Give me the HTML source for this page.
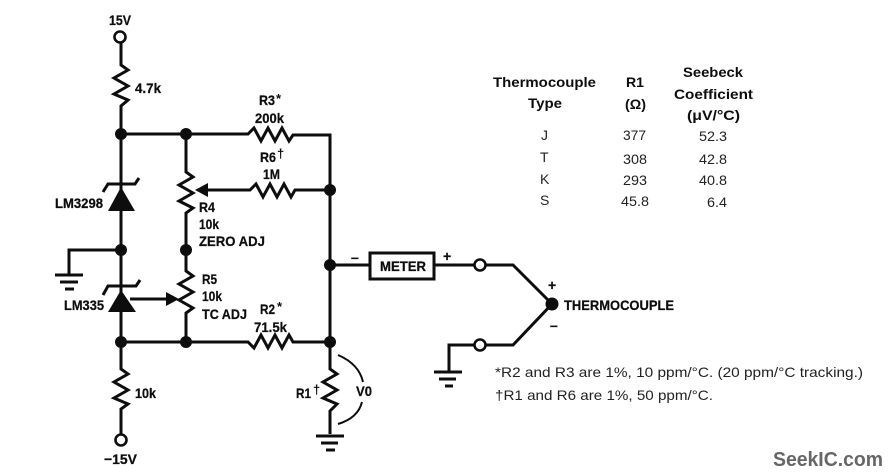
<!DOCTYPE html>
<html>
<head>
<meta charset="utf-8">
<style>
html,body{margin:0;padding:0;background:#fff;width:892px;height:476px;overflow:hidden}
svg{display:block}
.w{fill:none;stroke:#111;stroke-width:3;stroke-linejoin:miter}
.t{fill:none;stroke:#111;stroke-width:2}
.l{font-family:"Liberation Sans",sans-serif;font-weight:bold;font-size:14px;fill:#111;stroke:#111;stroke-width:.25}
.s{font-family:"Liberation Sans",sans-serif;font-weight:bold;font-size:13px;fill:#111}
.h{font-family:"Liberation Sans",sans-serif;font-weight:bold;font-size:14px;fill:#111}
.n{font-family:"Liberation Sans",sans-serif;font-size:14px;fill:#222}
.m{font-family:"Liberation Sans",sans-serif;font-weight:bold;font-size:20px;fill:#666}
</style>
</head>
<body>
<svg width="892" height="476" viewBox="0 0 892 476" xmlns="http://www.w3.org/2000/svg">
<rect width="892" height="476" fill="#fff"/>
<defs><filter id="b" x="0" y="0" width="100%" height="100%"><feGaussianBlur stdDeviation="0.35"/></filter></defs>
<g filter="url(#b)">

<!-- wires -->
<path class="w" d="M121,43V65L128,70L114,78L128,86L114,94L128,100L121,106V369L128,374L114,382L128,390L114,398L128,404L121,409V434"/>
<path class="w" d="M121,134H248L254,128L261,141L268,128L275,141L282,128L289,141L293,135H330V369L337,374L323,382L337,390L323,398L337,404L330,411V434"/>
<path class="w" d="M186,134V172L193,177L179,185L193,193L179,201L193,208L186,213V271L193,276L179,284L193,292L179,300L193,308L186,313V342"/>
<path class="w" d="M121,342H248L254,348L261,335L268,348L275,335L282,348L289,335L293,342H330"/>
<path class="w" d="M207,190H250L256,184L263,197L270,184L277,197L284,184L291,197L295,190H330"/>
<path class="w" d="M121,250H69V274"/>
<path class="w" d="M330,265H369M434,265H474M486,265H513L552,304L513,345H486M474,345H449V372"/>
<path class="w" d="M130,299H168"/>

<!-- arrows -->
<polygon points="195,190 208,183 208,197" fill="#111"/>
<polygon points="179,299 166,292 166,306" fill="#111"/>

<!-- zeners -->
<polygon points="121,187 108,211 135,211" fill="#111"/>
<path class="w" d="M103,192L108,184H135L139,178"/>
<polygon points="121,290 108,312 136,312" fill="#111"/>
<path class="w" d="M103,295L108,286H136L140,280"/>

<!-- grounds -->
<path class="w" d="M55,275H83"/><path class="w" d="M60,282H78"/><path class="w" d="M65,289H74"/>
<path class="w" d="M316,436H344"/><path class="w" d="M321,443H338"/><path class="w" d="M326,450H335"/>
<path class="w" d="M434,372H462"/><path class="w" d="M439,379H456"/><path class="w" d="M445,386H453"/>

<!-- nodes -->
<g fill="#111">
<circle cx="121" cy="134" r="6"/><circle cx="186" cy="134" r="6"/>
<circle cx="330" cy="190" r="6"/><circle cx="121" cy="250" r="6"/>
<circle cx="186" cy="250" r="6"/><circle cx="330" cy="265" r="6"/>
<circle cx="121" cy="342" r="6"/><circle cx="186" cy="342" r="6"/>
<circle cx="330" cy="342" r="6"/><circle cx="552" cy="304" r="6.5"/>
</g>

<!-- open terminals -->
<g fill="#fff" stroke="#111" stroke-width="2.6">
<circle cx="120" cy="37" r="5.5"/><circle cx="121" cy="440" r="5.5"/>
<circle cx="480" cy="265" r="5.5"/><circle cx="480" cy="345" r="5.5"/>
</g>

<!-- meter -->
<rect x="370" y="253" width="64" height="26" fill="#fff" stroke="#111" stroke-width="3"/>

<!-- V0 arcs -->
<path class="t" d="M338,355Q359,364 363,382"/>
<path class="t" d="M362,402Q358,418 338,424"/>

<!-- labels -->
<text class="l" x="109" y="25" textLength="22" lengthAdjust="spacingAndGlyphs">15V</text>
<text class="l" x="135" y="93" textLength="26" lengthAdjust="spacingAndGlyphs">4.7k</text>
<text class="l" x="259" y="105" textLength="16" lengthAdjust="spacingAndGlyphs">R3</text>
<text class="s" x="276" y="103">*</text>
<text class="l" x="255" y="123" textLength="29" lengthAdjust="spacingAndGlyphs">200k</text>
<text class="l" x="260" y="162" textLength="16" lengthAdjust="spacingAndGlyphs">R6</text>
<text class="s" x="277" y="158">†</text>
<text class="l" x="263" y="179" textLength="17" lengthAdjust="spacingAndGlyphs">1M</text>
<text class="l" x="55" y="208" textLength="48" lengthAdjust="spacingAndGlyphs">LM3298</text>
<text class="l" x="199" y="212" textLength="16" lengthAdjust="spacingAndGlyphs">R4</text>
<text class="l" x="199" y="229" textLength="20" lengthAdjust="spacingAndGlyphs">10k</text>
<text class="l" x="199" y="246" textLength="66" lengthAdjust="spacingAndGlyphs">ZERO ADJ</text>
<text class="l" x="202" y="284" textLength="15" lengthAdjust="spacingAndGlyphs">R5</text>
<text class="l" x="202" y="301" textLength="20" lengthAdjust="spacingAndGlyphs">10k</text>
<text class="l" x="202" y="319" textLength="45" lengthAdjust="spacingAndGlyphs">TC ADJ</text>
<text class="l" x="64" y="310" textLength="40" lengthAdjust="spacingAndGlyphs">LM335</text>
<text class="l" x="260" y="314" textLength="15" lengthAdjust="spacingAndGlyphs">R2</text>
<text class="s" x="277" y="311">*</text>
<text class="l" x="254" y="332" textLength="33" lengthAdjust="spacingAndGlyphs">71.5k</text>
<text class="l" x="135" y="398" textLength="21" lengthAdjust="spacingAndGlyphs">10k</text>
<text class="l" x="296" y="398" textLength="15" lengthAdjust="spacingAndGlyphs">R1</text>
<text class="s" x="313" y="394">†</text>
<text class="l" x="104" y="464" textLength="33" lengthAdjust="spacingAndGlyphs">−15V</text>
<text class="l" x="380" y="271" textLength="46" lengthAdjust="spacingAndGlyphs">METER</text>
<text class="l" x="564" y="310" textLength="110" lengthAdjust="spacingAndGlyphs">THERMOCOUPLE</text>
<text class="l" x="356" y="396" textLength="16" lengthAdjust="spacingAndGlyphs">V0</text>
<text class="l" x="351" y="262">–</text>
<text class="l" x="443" y="261">+</text>
<text class="l" x="548" y="290">+</text>
<text class="l" x="550" y="330">–</text>

<!-- table -->
<text class="h" x="493" y="87" textLength="103" lengthAdjust="spacingAndGlyphs">Thermocouple</text>
<text class="h" x="528" y="108" textLength="34" lengthAdjust="spacingAndGlyphs">Type</text>
<text class="h" x="626" y="87" textLength="18" lengthAdjust="spacingAndGlyphs">R1</text>
<text class="h" x="625" y="109" textLength="21" lengthAdjust="spacingAndGlyphs">(Ω)</text>
<text class="h" x="683" y="77" textLength="60" lengthAdjust="spacingAndGlyphs">Seebeck</text>
<text class="h" x="674" y="99" textLength="79" lengthAdjust="spacingAndGlyphs">Coefficient</text>
<text class="h" x="687" y="120" textLength="53" lengthAdjust="spacingAndGlyphs">(μV/°C)</text>

<text class="n" x="541" y="140">J</text>
<text class="n" x="623" y="140" textLength="23" lengthAdjust="spacingAndGlyphs">377</text>
<text class="n" x="699" y="141" textLength="28" lengthAdjust="spacingAndGlyphs">52.3</text>
<text class="n" x="540" y="162">T</text>
<text class="n" x="623" y="164" textLength="24" lengthAdjust="spacingAndGlyphs">308</text>
<text class="n" x="699" y="164" textLength="28" lengthAdjust="spacingAndGlyphs">42.8</text>
<text class="n" x="540" y="184">K</text>
<text class="n" x="623" y="185" textLength="24" lengthAdjust="spacingAndGlyphs">293</text>
<text class="n" x="699" y="185" textLength="28" lengthAdjust="spacingAndGlyphs">40.8</text>
<text class="n" x="540" y="205">S</text>
<text class="n" x="621" y="206" textLength="28" lengthAdjust="spacingAndGlyphs">45.8</text>
<text class="n" x="707" y="207" textLength="20" lengthAdjust="spacingAndGlyphs">6.4</text>

<!-- notes -->
<text class="n" x="495" y="377" textLength="368" lengthAdjust="spacingAndGlyphs">*R2 and R3 are 1%, 10 ppm/°C. (20 ppm/°C tracking.)</text>
<text class="n" x="495" y="400" textLength="218" lengthAdjust="spacingAndGlyphs">†R1 and R6 are 1%, 50 ppm/°C.</text>

<!-- watermark -->
<text class="m" x="773" y="466" textLength="110" lengthAdjust="spacingAndGlyphs">SeekIC.com</text>
</g>
</svg>
</body>
</html>
